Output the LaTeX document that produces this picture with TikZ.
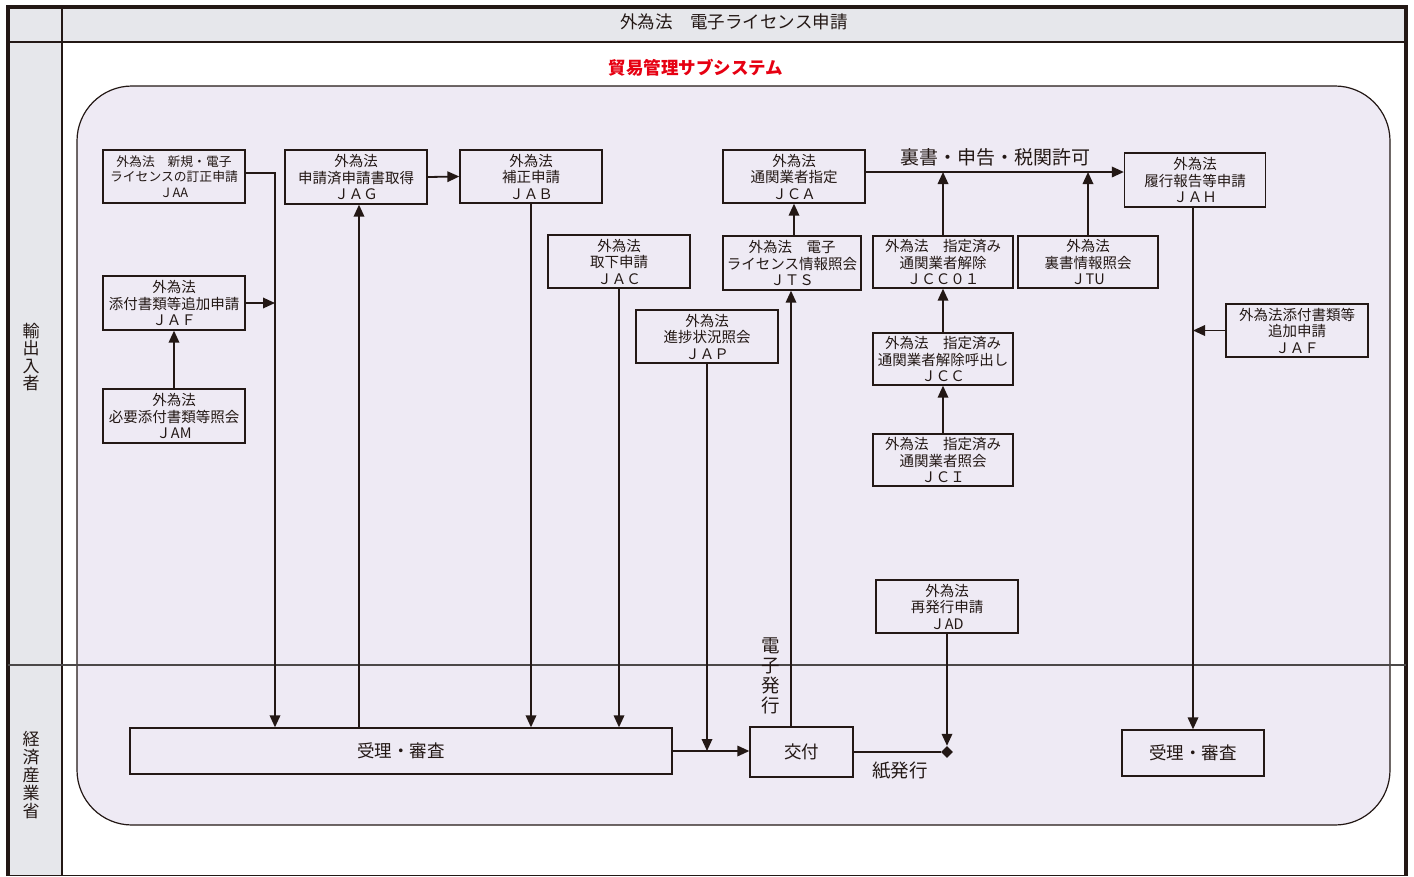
\documentclass[tikz,border=0pt]{standalone}
\usepackage{fontspec}
\setmainfont{Noto Sans CJK JP}
\usetikzlibrary{arrows.meta,shapes.geometric}
\definecolor{ink}{RGB}{35,24,21}
\definecolor{hdr}{RGB}{230,231,235}
\definecolor{bg}{RGB}{238,234,244}
\definecolor{ttlred}{RGB}{230,0,18}
\definecolor{divl}{RGB}{75,72,72}
\tikzset{
  box/.style={draw=ink, line width=1.3pt, fill=bg, inner sep=0pt, align=center, text=ink,
    font=\fontsize{14.5}{16.5}\selectfont},
  smallbox/.style={box, font=\fontsize{12.8}{15.5}\selectfont},
  conn/.style={draw=ink, line width=1.8pt},
  arr/.style={conn, -{Triangle[length=12pt,width=10.5pt]}},
  lbl/.style={text=ink, inner sep=0pt},
  vlbl/.style={text=ink, inner sep=0pt, align=center}
}
\begin{document}
\begin{tikzpicture}[x=1pt,y=-1pt]
\useasboundingbox (0,0) rectangle (1414,876);
% frame
\fill[hdr] (8,7) rectangle (1406,42);
\fill[hdr] (8,42) rectangle (62,876);
\draw[ink, line width=1.3pt] (8,42) -- (1406,42);
\draw[ink, line width=1.3pt] (62,7) -- (62,876);
\draw[ink, line width=0.8pt] (8,875) -- (1406,875);
\draw[ink, line width=4pt] (8,876) -- (8,7) -- (1406,7) -- (1406,876);
\node[lbl, font=\fontsize{17.5}{20}\selectfont] (hdrtxt) at (734,22) {外為法　電子ライセンス申請};
\node[lbl, text=ttlred, font=\fontsize{17.5}{20}\bfseries\selectfont] (title) at (696,68) {貿易管理サブシステム};
% lane labels
\node[vlbl, font=\fontsize{17}{17.5}\selectfont] (lane1) at (31,357) {輸\\出\\入\\者};
\node[vlbl, font=\fontsize{17}{18}\selectfont] (lane2) at (31,775) {経\\済\\産\\業\\省};
% subsystem area
\draw[ink, line width=1.2pt, fill=bg, rounded corners=55pt] (77,86) rectangle (1390,825);
\draw[divl, line width=1.3pt] (8,665) -- (1406,665);
% boxes
\node[smallbox, minimum width=142pt, minimum height=53pt] (JAA) at (174,176.5) {外為法　新規・電子\\ライセンスの訂正申請\\ＪAA};
\node[box, minimum width=142pt, minimum height=54pt] (JAG) at (356,177) {外為法\\申請済申請書取得\\ＪＡＧ};
\node[box, minimum width=142pt, minimum height=53pt] (JAB) at (531,176.5) {外為法\\補正申請\\ＪＡＢ};
\node[box, minimum width=142pt, minimum height=53pt] (JCA) at (794,176.5) {外為法\\通関業者指定\\ＪＣＡ};
\node[box, minimum width=141pt, minimum height=54pt] (JAH) at (1195,180) {外為法\\履行報告等申請\\ＪＡＨ};
\node[box, minimum width=142pt, minimum height=53pt] (JAC) at (619,261.5) {外為法\\取下申請\\ＪＡＣ};
\node[box, minimum width=138pt, minimum height=54pt] (JTS) at (792,263) {外為法　電子\\ライセンス情報照会\\ＪＴＳ};
\node[box, minimum width=140pt, minimum height=52pt] (JCC01) at (943,262) {外為法　指定済み\\通関業者解除\\ＪＣＣ０１};
\node[box, minimum width=140pt, minimum height=52pt] (JTU) at (1088,262) {外為法\\裏書情報照会\\ＪTU};
\node[box, minimum width=142pt, minimum height=54pt] (JAFL) at (174,303) {外為法\\添付書類等追加申請\\ＪＡＦ};
\node[box, minimum width=142pt, minimum height=53pt] (JAFR) at (1297,330.5) {外為法添付書類等\\追加申請\\ＪＡＦ};
\node[box, minimum width=142pt, minimum height=53pt] (JAP) at (707,336.5) {外為法\\進捗状況照会\\ＪＡＰ};
\node[box, minimum width=140pt, minimum height=52pt] (JCC) at (943,359) {外為法　指定済み\\通関業者解除呼出し\\ＪＣＣ};
\node[box, minimum width=142pt, minimum height=54pt] (JAM) at (174,416) {外為法\\必要添付書類等照会\\ＪAM};
\node[box, minimum width=140pt, minimum height=52pt] (JCI) at (943,460) {外為法　指定済み\\通関業者照会\\ＪＣＩ};
\node[box, minimum width=142pt, minimum height=53pt] (JAD) at (947,606.5) {外為法\\再発行申請\\ＪAD};
\node[box, font=\fontsize{17.5}{20}\selectfont, minimum width=542pt, minimum height=46pt] (RecL) at (401,751) {受理・審査};
\node[box, font=\fontsize{17.5}{20}\selectfont, minimum width=103pt, minimum height=50pt] (Kofu) at (801.5,752) {交付};
\node[box, font=\fontsize{17.5}{20}\selectfont, minimum width=142pt, minimum height=46pt] (RecR) at (1193,753) {受理・審査};
% helper coordinates
\coordinate (xa) at (275,0);
\coordinate (xg) at (359,0);
\coordinate (xe) at (791,0);
\coordinate (yl) at (0,172);
% connectors
\draw[arr] (JAA.east |- 0,173) -| (xa |- RecL.north);
\draw[arr] (JAFL.east) -- (JAFL.east -| xa);
\draw[arr] (JAM.north) -- (JAFL.south);
\draw[arr] (xg |- RecL.north) -- (xg |- JAG.south);
\draw[arr] (JAG.east) -- (JAB.west);
\draw[arr] (JAB.south) -- (JAB.south |- RecL.north);
\draw[arr] (JAC.south) -- (JAC.south |- RecL.north);
\draw[arr] (JAP.south) -- (JAP.south |- RecL.east);
\draw[arr] (RecL.east) -- (RecL.east -| Kofu.west);
\draw[arr] (xe |- Kofu.north) -- (xe |- JTS.south);
\draw[arr] (JCA.south |- JTS.north) -- (JCA.south);
\draw[arr] (JCA.east |- yl) -- (JAH.west |- yl);
\draw[arr] (JCC01.north) -- (JCC01.north |- yl);
\draw[arr] (JTU.north) -- (JTU.north |- yl);
\draw[arr] (JCC.north) -- (JCC01.south);
\draw[arr] (JCI.north) -- (JCC.south);
\node[diamond, fill=ink, inner sep=0pt, minimum size=12pt] (dm) at (JAD.south |- Kofu.east) {};
\draw[arr] (JAD.south) -- (dm.north);
\draw[conn] (Kofu.east) -- (dm.west);
\draw[arr] (JAH.south -| RecR.north) -- (RecR.north);
\draw[arr] (JAFR.west) -- (JAFR.west -| RecR.north);
% labels
\node[lbl, font=\fontsize{19}{22}\selectfont] (lblura) at (995,157) {裏書・申告・税関許可};
\node[vlbl, font=\fontsize{18.5}{20}\selectfont] (lbldenshi) at (771,676) {電\\子\\発\\行};
\node[lbl, font=\fontsize{18.5}{22}\selectfont] (lblkami) at (900,771) {紙発行};
\end{tikzpicture}
\end{document}
